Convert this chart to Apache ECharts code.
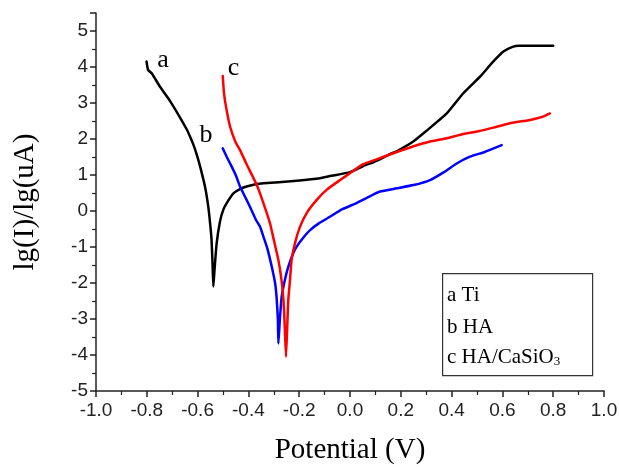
<!DOCTYPE html>
<html>
<head>
<meta charset="utf-8">
<script src="https://cdn.jsdelivr.net/npm/echarts@6/dist/echarts.min.js"></script>
<style>html,body{margin:0;padding:0;background:#fff;}#c{width:619px;height:467px;}</style>
</head>
<body>
<div id="c"></div>
<script>
// Curve a: Ti (black)
var aX = [-0.801,-0.795,-0.780,-0.748,-0.709,-0.676,-0.643,-0.630,-0.617,-0.604,-0.591,-0.571,-0.558,-0.550,-0.545,-0.541,-0.538,-0.533,-0.525,-0.512,-0.499,-0.480,-0.459,-0.435,-0.407,-0.367,-0.341,-0.280,-0.210,-0.118,-0.079,0.000,0.052,0.100,0.157,0.184,0.249,0.300,0.381,0.446,0.512,0.560,0.604,0.640,0.665,0.800];
var aY = [4.15,3.92,3.82,3.45,3.06,2.68,2.27,2.07,1.85,1.58,1.26,0.68,0.12,-0.40,-0.81,-1.50,-2.10,-1.60,-0.90,-0.30,0.03,0.28,0.49,0.60,0.68,0.75,0.77,0.80,0.84,0.91,0.97,1.08,1.25,1.38,1.58,1.66,1.93,2.22,2.71,3.27,3.73,4.12,4.43,4.56,4.59,4.59];
// Curve b: HA (blue)
var bX = [-0.501,-0.485,-0.472,-0.450,-0.433,-0.410,-0.394,-0.370,-0.354,-0.341,-0.325,-0.308,-0.295,-0.289,-0.284,-0.282,-0.276,-0.269,-0.256,-0.243,-0.225,-0.210,-0.185,-0.157,-0.120,-0.079,-0.030,0.026,0.070,0.118,0.184,0.250,0.315,0.370,0.420,0.472,0.530,0.597];
var bY = [1.74,1.50,1.32,1.00,0.68,0.35,0.12,-0.25,-0.44,-0.71,-1.05,-1.55,-2.00,-2.40,-3.00,-3.68,-3.00,-2.38,-1.90,-1.55,-1.20,-0.99,-0.75,-0.53,-0.33,-0.16,0.05,0.22,0.38,0.54,0.63,0.72,0.86,1.08,1.32,1.51,1.64,1.83];
// Curve c: HA/CaSiO3 (red)
var cX = [-0.501,-0.496,-0.486,-0.472,-0.450,-0.433,-0.407,-0.367,-0.340,-0.315,-0.300,-0.282,-0.270,-0.262,-0.257,-0.252,-0.247,-0.243,-0.236,-0.230,-0.215,-0.197,-0.170,-0.131,-0.090,-0.039,0.000,0.052,0.079,0.130,0.184,0.250,0.315,0.381,0.446,0.510,0.577,0.640,0.709,0.760,0.787];
var cY = [3.75,3.27,2.81,2.34,1.90,1.69,1.30,0.72,0.20,-0.34,-0.80,-1.36,-1.90,-2.47,-3.20,-4.05,-3.20,-2.47,-1.90,-1.36,-0.85,-0.44,-0.05,0.31,0.60,0.86,1.05,1.30,1.37,1.50,1.64,1.80,1.93,2.02,2.14,2.22,2.34,2.45,2.53,2.62,2.71];

var curveNames = ['a', 'b', 'c'];
var curveLabelPos = [[-0.736, 4.19], [-0.567, 2.11], [-0.459, 3.96]];
var legendLines = ['a Ti', 'b HA', 'c HA/CaSiO{s|3}'];
var xTitle = 'Potential (V)';
var yTitle = 'lg(I)/lg(uA)';

function zip(xs, ys) { return xs.map(function (x, i) { return [x, ys[i]]; }); }

var chart = echarts.init(document.getElementById('c'), null, {renderer: 'canvas'});
var serif = '"Liberation Serif", "Times New Roman", serif';
var sans = '"Liberation Sans", Arial, sans-serif';
var colors = ['#000000', '#0000ff', '#ff0000'];
var datas = [zip(aX, aY), zip(bX, bY), zip(cX, cY)];

var series = datas.map(function (d, i) {
  return {
    type: 'line',
    data: d,
    showSymbol: false,
    smooth: 0.15,
    lineStyle: {color: colors[i], width: 2.5, join: 'round', cap: 'round'},
    z: i === 0 ? 3 : (i === 1 ? 4 : 5),
    markPoint: {
      symbol: 'circle',
      symbolSize: 0,
      silent: true,
      data: [{coord: curveLabelPos[i], value: curveNames[i]}],
      label: {show: true, position: 'inside', formatter: curveNames[i], color: '#000', fontFamily: serif, fontSize: 26}
    }
  };
});

var option = {
  animation: false,
  backgroundColor: '#fff',
  grid: {left: 96, right: 15, top: 13, bottom: 76, containLabel: false, outerBoundsMode: 'none'},
  xAxis: {
    type: 'value', min: -1, max: 1, interval: 0.2,
    name: xTitle, nameLocation: 'middle', nameGap: 45,
    nameTextStyle: {fontFamily: serif, fontSize: 29, color: '#000'},
    axisLine: {onZero: false, lineStyle: {color: '#222', width: 1.5}},
    axisTick: {show: true, length: 6, lineStyle: {color: '#222', width: 1.5}},
    minorTick: {show: true, splitNumber: 2, length: 4, lineStyle: {color: '#222', width: 1.2}},
    axisLabel: {fontFamily: sans, fontSize: 19, color: '#222', margin: 10,
      formatter: function (v) { return v.toFixed(1); }},
    splitLine: {show: false}
  },
  yAxis: {
    type: 'value', min: -5, max: 5.5, interval: 1,
    name: yTitle, nameLocation: 'middle', nameGap: 56, nameRotate: 90,
    nameTextStyle: {fontFamily: serif, fontSize: 29, color: '#000'},
    axisLine: {show: true, onZero: false, lineStyle: {color: '#222', width: 1.5}},
    axisTick: {show: true, length: 6, lineStyle: {color: '#222', width: 1.5}},
    minorTick: {show: true, splitNumber: 2, length: 4, lineStyle: {color: '#222', width: 1.2}},
    axisLabel: {fontFamily: sans, fontSize: 19, color: '#222', margin: 8,
      formatter: function (v) { return (Math.abs(v - Math.round(v)) < 1e-9) ? String(Math.round(v)) : ''; }},
    splitLine: {show: false}
  },
  graphic: [
    {type: 'rect', left: 442, top: 273, shape: {width: 150, height: 102},
      style: {fill: '#fff', stroke: '#333', lineWidth: 1.2}, z: 10},
    {type: 'text', left: 447, top: 285, z: 11,
      style: {text: legendLines[0], fontFamily: serif, fontSize: 21, fill: '#000'}},
    {type: 'text', left: 447, top: 317, z: 11,
      style: {text: legendLines[1], fontFamily: serif, fontSize: 21, fill: '#000'}},
    {type: 'text', left: 447, top: 347, z: 11,
      style: {text: legendLines[2], fontFamily: serif, fontSize: 21, fill: '#000',
        rich: {s: {fontFamily: serif, fontSize: 13, fill: '#000', padding: [9, 0, 0, 0]}}}}
  ],
  series: series
};
chart.setOption(option);
</script>
</body>
</html>
